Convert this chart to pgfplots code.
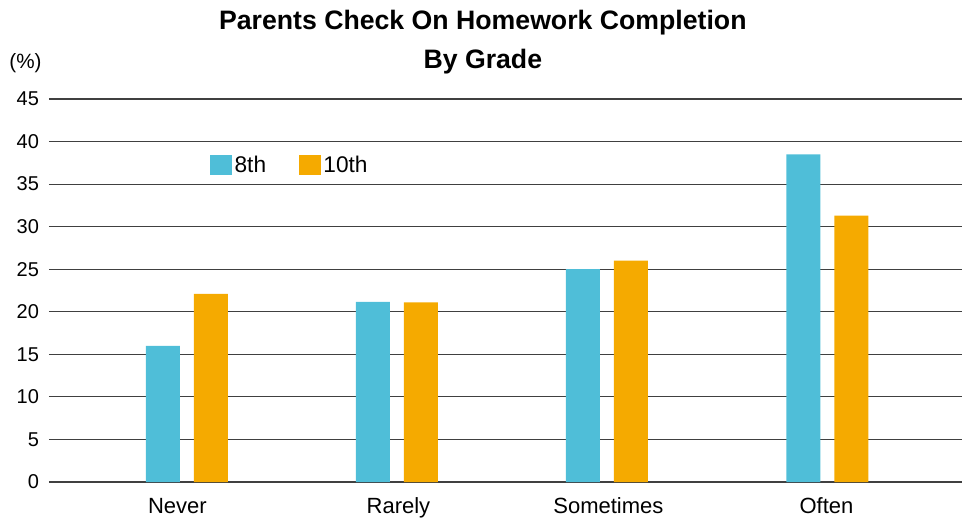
\documentclass[border=0pt]{standalone}
\usepackage{fontspec}
\setmainfont{Liberation Sans}
\usepackage{pgfplots}
\pgfplotsset{compat=1.18}
\definecolor{c8}{HTML}{4FBED8}
\definecolor{c10}{HTML}{F5AA00}
\begin{document}
\begin{tikzpicture}
\useasboundingbox (-36.75pt,-27pt) rectangle (686.25pt,361.5pt);
\begin{axis}[
  at={(0,0)}, anchor=south west,
  scale only axis,
  width=684.75pt, height=287.25pt,
  ymin=0, ymax=45, ytick={0,5,...,45},
  xmin=-0.646, xmax=3.630,
  xtick={-0.0445,0.9906,1.974,2.995}, xticklabels={Never,Rarely,Sometimes,Often},
  axis line style={draw=none},
  major tick length=0pt,
  ymajorgrids,
  major grid style={black!75, line width=0.9pt},
  ybar=10.5pt, bar width=25.5pt,
  /pgf/number format/assume math mode=true,
  yticklabel style={font=\fontsize{15}{18}\selectfont, xshift=-4pt},
  xticklabel style={font=\fontsize{16.5}{19}\selectfont, anchor=base, yshift=-23.25pt},
  legend style={draw=none, fill=none, at={(0.1763,0.858)}, anchor=north west,
    inner sep=0pt, outer sep=0pt,
    legend columns=2, font=\fontsize{17}{19}\selectfont,
    /tikz/every even column/.append style={column sep=22.5pt}},
  legend image code/.code={\fill[#1] (0pt,-7pt) rectangle (16.5pt,8pt);},
  clip=false,
]
\addplot[fill=c8, draw=none] coordinates {(0,16.0) (0.9836,21.15) (1.967,25.0) (3,38.5)};
\addplot[fill=c10, draw=none] coordinates {(0,22.1) (0.9836,21.1) (1.967,26.0) (3,31.3)};
\legend{8th,10th}
\node[font=\fontsize{15.5}{18}\selectfont, anchor=base] at ([xshift=-17.6pt,yshift=23.25pt]rel axis cs:0,1) {(\%)};
\node[font=\bfseries\fontsize{20}{29.25}\selectfont, align=center, anchor=base] at ([xshift=-17pt,yshift=23.25pt]rel axis cs:0.5,1) {Parents Check On Homework Completion\\By Grade};
\end{axis}
\end{tikzpicture}
\end{document}
